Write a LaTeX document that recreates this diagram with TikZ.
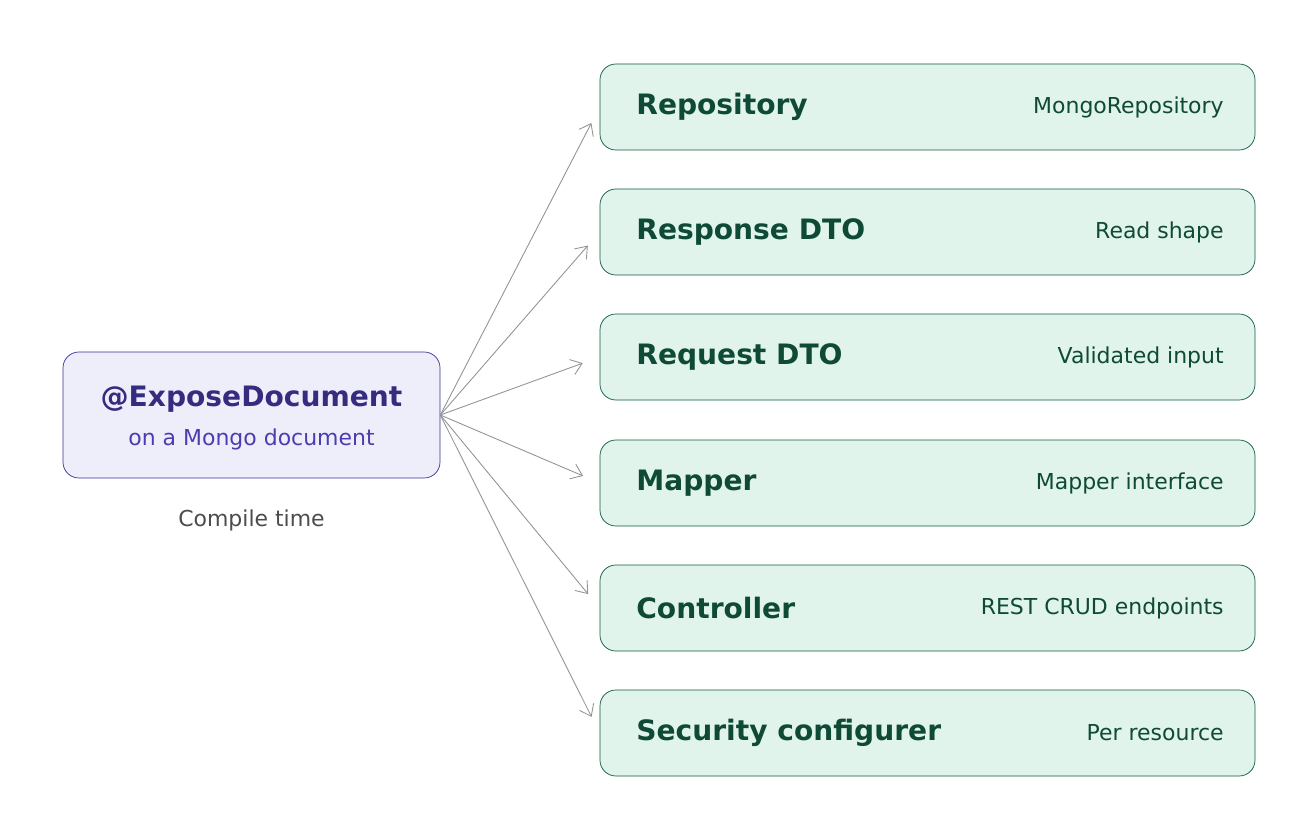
\documentclass[tikz,border=0pt]{standalone}
\usepackage{fontspec}
\setmainfont{DejaVu Sans}
\usetikzlibrary{arrows.meta}
\definecolor{srcfill}{HTML}{EEEEFB}
\definecolor{srcdraw}{HTML}{3B2F9A}
\definecolor{srctext}{HTML}{352C80}
\definecolor{srcsub}{HTML}{4B3DB0}
\definecolor{outfill}{HTML}{E1F4EC}
\definecolor{outdraw}{HTML}{0E5A3C}
\definecolor{outtext}{HTML}{0E4A36}
\newcommand{\px}{0.02cm}

\begin{document}
\begin{tikzpicture}[x=\px, y=-\px,
    srcbox/.style={draw=srcdraw, fill=srcfill, rounded corners=9pt, minimum width=377*\px, minimum height=126*\px, inner sep=0pt},
    outbox/.style={draw=outdraw, fill=outfill, rounded corners=9pt, minimum width=655*\px, minimum height=86*\px, inner sep=0pt},
    title/.style={anchor=west, text=outtext, font=\fontsize{16}{19}\selectfont\bfseries, inner sep=0pt},
    note/.style={anchor=east, text=outtext, font=\fontsize{12.5}{15}\selectfont, inner sep=0pt},
    link/.style={draw=gray!85, line width=0.5pt, -{Straight Barb[length=6pt,width=9pt]}}]
    \useasboundingbox (0,0) rectangle (1303,821);

    % Source annotation
    \node[srcbox] (src) at (251.5,415) {};
    \node[text=srctext, font=\fontsize{16}{19}\selectfont\bfseries] (src-title) at (251.5,399) {@ExposeDocument};
    \node[text=srcsub, font=\fontsize{12.5}{15}\selectfont] (src-sub) at (251.5,439) {on a Mongo document};
    \node[text=black!70, font=\fontsize{12.5}{15}\selectfont] (compile) at (251.5,520) {Compile time};

    % Generated artefacts
    \node[outbox] (out-1) at (927.5,107) {};
    \node[outbox] (out-2) at (927.5,232) {};
    \node[outbox] (out-3) at (927.5,357) {};
    \node[outbox] (out-4) at (927.5,483) {};
    \node[outbox] (out-5) at (927.5,608) {};
    \node[outbox] (out-6) at (927.5,733) {};

    \node[title] at (636,107) {Repository};
    \node[title] at (636,232) {Response DTO};
    \node[title] at (636,357) {Request DTO};
    \node[title] at (636,483) {Mapper};
    \node[title] at (636,608) {Controller};
    \node[title] at (636,733) {Security configurer};

    \node[note] at (1224,107) {MongoRepository};
    \node[note] at (1224,232) {Read shape};
    \node[note] at (1224,357) {Validated input};
    \node[note] at (1224,483) {Mapper interface};
    \node[note] at (1224,608) {REST CRUD endpoints};
    \node[note] at (1224,733) {Per resource};

    % Arrows
    \foreach \i in {1,...,6}
        \draw[link, shorten >=0.36cm] (src.east) -- (out-\i.west);
\end{tikzpicture}
\end{document}
